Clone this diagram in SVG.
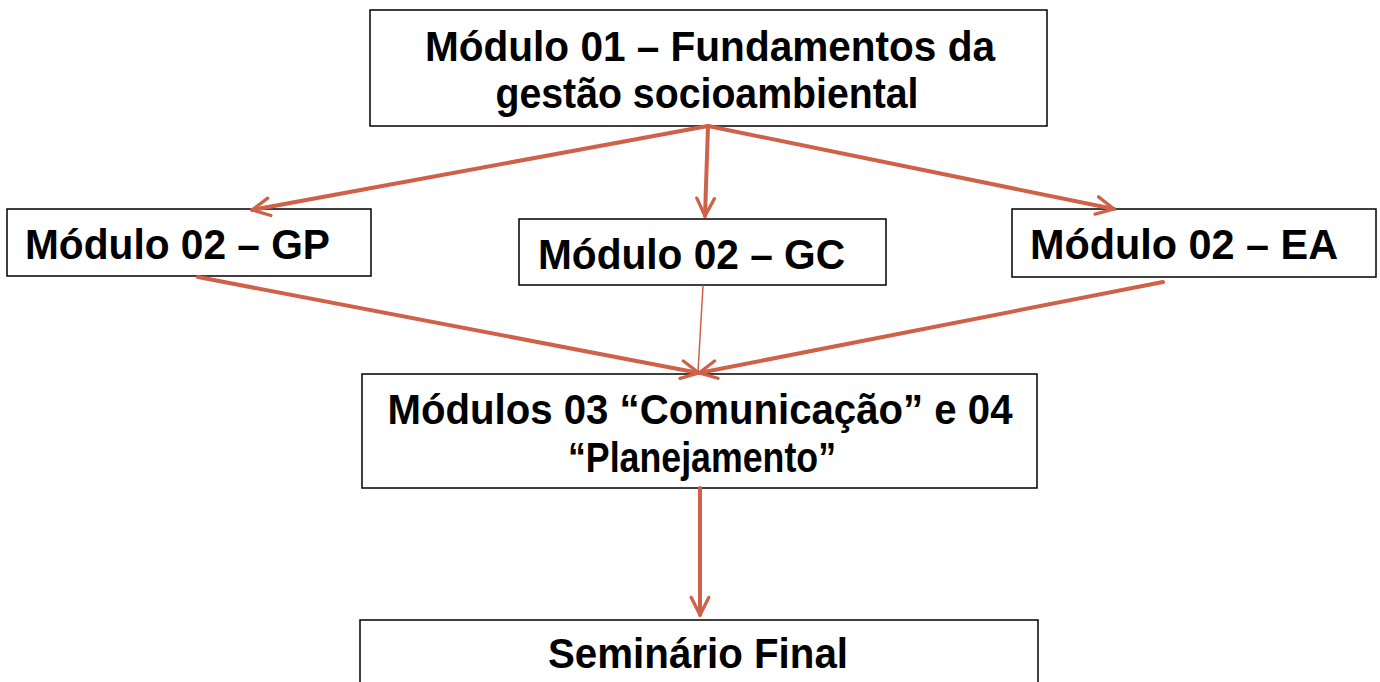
<svg xmlns="http://www.w3.org/2000/svg" width="1380" height="682" viewBox="0 0 1380 682">
<style>
.box{fill:#fff;stroke:#000;stroke-width:1.5}
.t{font-family:"Liberation Sans","DejaVu Sans",sans-serif;font-weight:bold;font-size:42px;fill:#000}
.c{stroke:#cf6149;stroke-width:4;fill:none;stroke-linecap:round}
</style>
<defs>
<marker id="ah" viewBox="0 0 20 20" refX="18" refY="10" markerWidth="5.5" markerHeight="5.5" markerUnits="strokeWidth" orient="auto">
<polyline points="2,2 18,10 2,18" fill="none" stroke="#cf6149" stroke-width="3" stroke-linecap="round" stroke-linejoin="round"/>
</marker>
</defs>
<rect width="1380" height="682" fill="#fff"/>
<g id="n1"><rect class="box" x="370" y="10" width="677" height="116"/>
<text class="t" x="710" y="61" text-anchor="middle" textLength="570" lengthAdjust="spacingAndGlyphs">Módulo 01 – Fundamentos da</text>
<text class="t" x="707" y="108" text-anchor="middle" textLength="423" lengthAdjust="spacingAndGlyphs">gestão socioambiental</text></g>
<g id="n2"><rect class="box" x="7" y="209" width="364" height="67"/>
<text class="t" x="25" y="259" textLength="305" lengthAdjust="spacingAndGlyphs">Módulo 02 – GP</text></g>
<g id="n3"><rect class="box" x="519" y="219" width="367" height="66"/>
<text class="t" x="538" y="269" textLength="307" lengthAdjust="spacingAndGlyphs">Módulo 02 – GC</text></g>
<g id="n4"><rect class="box" x="1012" y="209" width="364" height="68"/>
<text class="t" x="1030" y="259" textLength="308" lengthAdjust="spacingAndGlyphs">Módulo 02 – EA</text></g>
<g id="n5"><rect class="box" x="362" y="374" width="675" height="114"/>
<text class="t" x="700" y="424" text-anchor="middle" textLength="625" lengthAdjust="spacingAndGlyphs">Módulos 03 “Comunicação” e 04</text>
<text class="t" x="702" y="472" text-anchor="middle" textLength="268" lengthAdjust="spacingAndGlyphs">“Planejamento”</text></g>
<g id="n6"><rect class="box" x="360" y="620" width="678" height="80"/>
<text class="t" x="698" y="668" text-anchor="middle" textLength="300" lengthAdjust="spacingAndGlyphs">Seminário Final</text></g>
<g id="connectors">
<line class="c" x1="708" y1="126" x2="252" y2="210" marker-end="url(#ah)"/>
<line class="c" x1="708" y1="126" x2="705" y2="216" marker-end="url(#ah)"/>
<line class="c" x1="708" y1="126" x2="1114" y2="209" marker-end="url(#ah)"/>
<line class="c" x1="198" y1="277" x2="699" y2="373" marker-end="url(#ah)"/>
<line class="c" x1="703" y1="286" x2="698" y2="372" style="stroke-width:1.5"/>
<line class="c" x1="1163" y1="282" x2="699" y2="373" marker-end="url(#ah)"/>
<line class="c" x1="700" y1="488" x2="700" y2="615" marker-end="url(#ah)"/>
</g>
</svg>
